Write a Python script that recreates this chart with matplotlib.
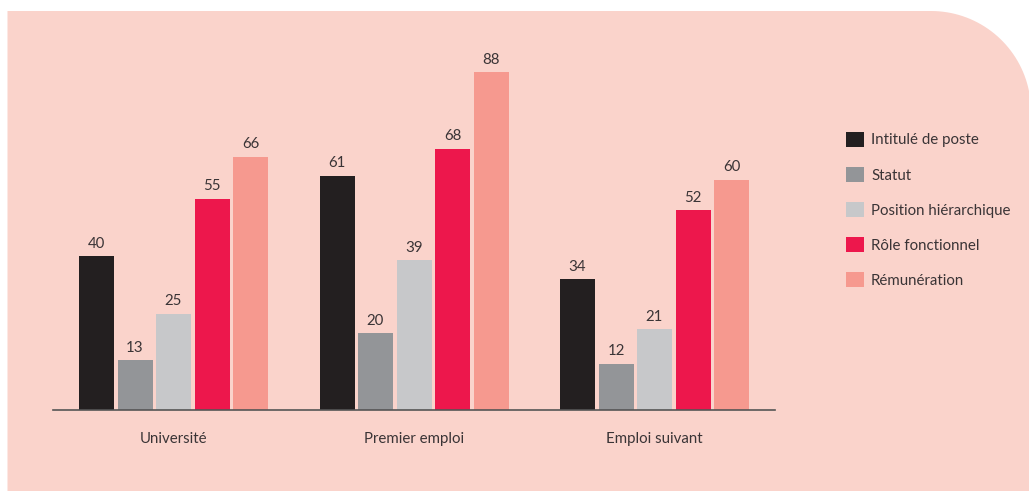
import numpy as np
import matplotlib
matplotlib.use("Agg")
import matplotlib.pyplot as plt
from matplotlib.path import Path
from matplotlib.patches import PathPatch, Patch

plt.rcParams['font.family'] = ['Lato', 'DejaVu Sans']

groups = ["Université", "Premier emploi", "Emploi suivant"]
series = ["Intitulé de poste", "Statut", "Position hiérarchique",
          "Rôle fonctionnel", "Rémunération"]
intitule = [40, 61, 34]
statut = [13, 20, 12]
position = [25, 39, 21]
role = [55, 68, 52]
remuneration = [66, 88, 60]
values = [intitule, statut, position, role, remuneration]
colors = ["#231f20", "#939598", "#c7c8ca", "#ed174c", "#f6998f"]
bg = "#fad3cb"
txt = "#3a3436"

W, H = 1029, 492
fig = plt.figure(figsize=(W / 100, H / 100), dpi=100)
fig.patch.set_facecolor("white")

# background panel, top-right corner rounded
x0, y0, x1, y1, r = 7.5, 1, W + 2, H - 11, 100
th = np.linspace(0, np.pi / 2, 40)
arc = np.column_stack([x1 - r + r * np.cos(th), y1 - r + r * np.sin(th)])
pts = np.vstack([[x0, y0], [x1, y0], arc, [x0, y1], [x0, y0]])
pts = pts / [W, H]
fig.patches.append(PathPatch(Path(pts), transform=fig.transFigure,
                             facecolor=bg, edgecolor="none", zorder=-5))

step = 38.5
left, right, base, top = 53, 775, 410, 26
ax = fig.add_axes([left / W, (H - base) / H, (right - left) / W, (base - top) / H])
ax.set_zorder(2)
ax.set_facecolor("none")
ax.set_ylim(0, 100)
ax.set_xlim((left - 173.5) / step, (right - 173.5) / step)

centers = np.arange(len(groups)) * 240.5 / step
for i, (vals, c) in enumerate(zip(values, colors)):
    xs = centers + (i - 2)
    ax.bar(xs, vals, width=35 / step, color=c, zorder=2)
    for x, v in zip(xs, vals):
        ax.annotate(str(v), (x, v), xytext=(0, 4), textcoords="offset points",
                    ha="center", va="bottom", fontsize=10.8, color=txt)

for s in ["top", "right", "left"]:
    ax.spines[s].set_visible(False)
ax.spines["bottom"].set_color("#555555")
ax.spines["bottom"].set_linewidth(1.2)
ax.set_yticks([])
ax.set_xticks(centers)
ax.set_xticklabels(groups, fontsize=10.8, color=txt)
ax.tick_params(axis="x", length=0, pad=16)

handles = [Patch(facecolor=c, edgecolor="none") for c in colors]
leg = fig.legend(handles, series, loc="upper left",
                 bbox_to_anchor=(832 / W, 1 - 118 / H), frameon=False,
                 fontsize=10.8, handlelength=1.25, handleheight=1.25,
                 handletextpad=0.45, labelspacing=1.27, labelcolor=txt)
leg.set_zorder(3)

fig.savefig("out.png", dpi=100, facecolor="white")
